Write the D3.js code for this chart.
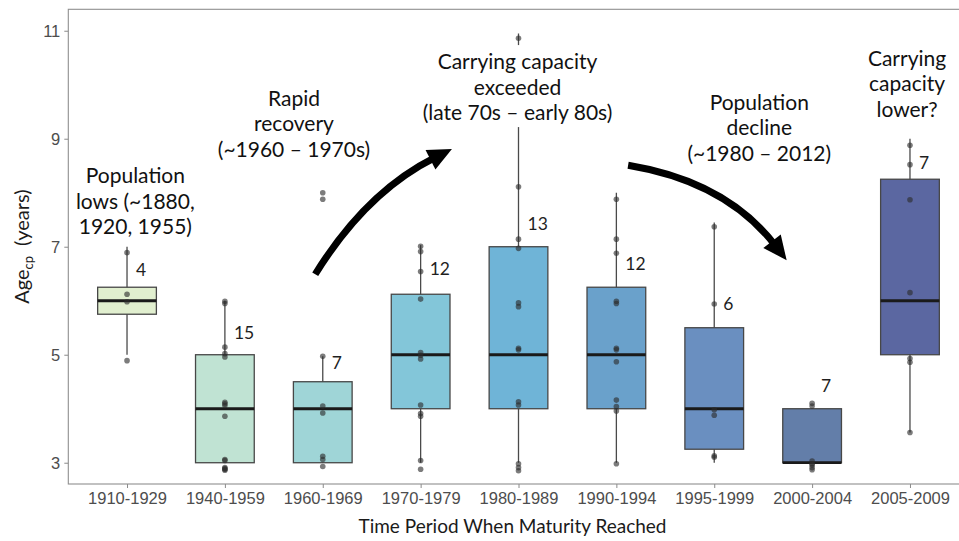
<!DOCTYPE html>
<html>
<head>
<meta charset="utf-8">
<script src="https://cdn.jsdelivr.net/npm/d3@7"></script>
<style>
  body { margin: 0; background: #fff; }
  svg { display: block; font-family: Lato, "Open Sans", sans-serif; }
</style>
</head>
<body>
<div id="chart"></div>
<script>

// Data

var periods = ["1910-1929", "1940-1959", "1960-1969", "1970-1979", "1980-1989",
               "1990-1994", "1995-1999", "2000-2004", "2005-2009"];

var counts = [4, 15, 7, 12, 13, 12, 6, 7, 7];

var whiskerLow  = [5,    3, 3,    3,    3,     3,    3,    3, 3.56];
var q1          = [5.75, 3, 3,    4,    4,     4,    3.25, 3, 5];
var medians     = [6,    4, 4,    5,    5,     5,    4,    3, 6];
var q3          = [6.25, 5, 4.5,  6.12, 7,     6.25, 5.5,  4, 8.25];
var whiskerHigh = [7,    6, 4.97, 7.03, 10.95, 8,    7.45, 4, 9];

// jittered points as plotted
var pointValues = [
    [6.89, 6.12, 5.98, 4.89],
    [5.99, 5.95, 5.14, 5.02, 4.96, 4.12, 4.09, 4.06, 3.86, 3.06, 3.04, 2.91, 2.89, 2.88, 2.86],
    [8.0, 7.88, 4.97, 4.05, 3.92, 3.12, 3.06, 2.93],
    [7.01, 6.91, 6.54, 6.03, 5.04, 4.99, 4.92, 4.07, 3.91, 3.86, 3.04, 2.88],
    [10.86, 8.11, 7.14, 6.97, 5.96, 5.89, 5.12, 5.09, 4.13, 4.07, 2.98, 2.91, 2.85],
    [7.88, 7.14, 6.88, 5.99, 5.95, 5.12, 5.09, 4.87, 4.16, 4.04, 3.96, 2.98],
    [7.37, 5.94, 3.98, 3.88, 3.13, 3.1],
    [4.1, 4.05, 3.03, 2.98, 2.96, 2.91, 2.87],
    [8.88, 8.52, 7.87, 6.15, 4.93, 4.86, 3.56]
];

var countLabelY = [6.57, 5.4, 4.86, 6.59, 7.42, 6.69, 5.95, 4.42, 8.56];

var boxColors = ["#e1efcf", "#c0e3d3", "#9fd5d7", "#83c6d9", "#6fb4d7",
                 "#6aa1cb", "#6a8fc0", "#637ea9", "#5b67a1"];

var yTicks = [3, 5, 7, 9, 11];

// annotation text, anchored in data units (x = period index, y = first baseline)
var noteLines = [
    ["Population", "lows (~1880,", "1920, 1955)"],
    ["Rapid", "recovery", "(~1960 \u2013 1970s)"],
    ["Carrying capacity", "exceeded", "(late 70s \u2013 early 80s)"],
    ["Population", "decline", "(~1980 \u2013 2012)"],
    ["Carrying", "capacity", "lower?"]
];
var noteX = [1.085, 2.706, 4.99, 7.46, 8.97];
var noteY = [8.18, 9.61, 10.29, 9.54, 10.35];
var noteBackground = [false, false, true, false, false];

// curved arrows: tail, control, tip in data units
var arrowFrom = [[2.923, 6.49], [6.12, 8.51]];
var arrowVia  = [[3.44, 8.01],  [7.12, 8.21]];
var arrowTo   = [[4.32, 8.81],  [7.74, 6.75]];


var W = 959, H = 541;
var panel = {left: 68.3, right: 968.7, top: 9.3, bottom: 484};

var svg = d3.select("#chart").append("svg")
    .attr("width", W)
    .attr("height", H);

svg.append("rect").attr("width", W).attr("height", H).attr("fill", "#fff");

var xBand = d3.scalePoint()
    .domain(periods)
    .range([panel.left, panel.right])
    .padding(0.6);

// continuous version of the same axis, for annotations
var xCont = d3.scaleLinear()
    .domain([0.4, periods.length + 0.6])
    .range([panel.left, panel.right]);

var y = d3.scaleLinear()
    .domain([2.606, 11.397])
    .range([panel.bottom, panel.top]);

var boxW = xBand.step() * 0.6;


// axes
var yAxis = d3.axisLeft(y).tickValues(yTicks).tickSize(4).tickPadding(4);
var gy = svg.append("g").attr("transform", "translate(" + panel.left + ",0)").call(yAxis);
gy.select(".domain").remove();
gy.selectAll(".tick line").attr("stroke", "#8a8a8a");
gy.selectAll(".tick text").attr("fill", "#4d4d4d").style("font-size", "16.5px");

var xAxis = d3.axisBottom(xBand).tickSize(4).tickPadding(4);
var gx = svg.append("g").attr("transform", "translate(0," + panel.bottom + ")").call(xAxis);
gx.select(".domain").remove();
gx.selectAll(".tick line").attr("stroke", "#8a8a8a");
gx.selectAll(".tick text").attr("fill", "#4d4d4d").style("font-size", "16.5px");


// boxes
var boxes = svg.append("g").selectAll("g")
    .data(periods)
    .enter()
    .append("g")
    .attr("transform", function(d) { return "translate(" + xBand(d) + ",0)"; });

boxes.append("line")
    .attr("y1", function(d, i) { return y(whiskerHigh[i]); })
    .attr("y2", function(d, i) { return y(whiskerLow[i]); })
    .attr("stroke", "#4a4a4a")
    .attr("stroke-width", 1.3);

boxes.append("rect")
    .attr("x", -boxW / 2)
    .attr("width", boxW)
    .attr("y", function(d, i) { return y(q3[i]); })
    .attr("height", function(d, i) { return y(q1[i]) - y(q3[i]); })
    .attr("fill", function(d, i) { return boxColors[i]; })
    .attr("stroke", "#474747")
    .attr("stroke-width", 1.3);

boxes.append("line")
    .attr("x1", -boxW / 2)
    .attr("x2", boxW / 2)
    .attr("y1", function(d, i) { return y(medians[i]); })
    .attr("y2", function(d, i) { return y(medians[i]); })
    .attr("stroke", "#1a1a1a")
    .attr("stroke-width", 2.8);

boxes.selectAll("circle")
    .data(function(d, i) { return pointValues[i]; })
    .enter()
    .append("circle")
    .attr("cy", function(v) { return y(v); })
    .attr("r", 2.8)
    .attr("fill", "#2b2b2b")
    .attr("fill-opacity", 0.62);

boxes.append("text")
    .attr("x", 9)
    .attr("y", function(d, i) { return y(countLabelY[i]); })
    .attr("dy", "0.36em")
    .attr("fill", "#1f1f1f")
    .style("font-size", "17.5px")
    .text(function(d, i) { return counts[i]; });


// panel border
svg.append("rect")
    .attr("x", panel.left)
    .attr("y", panel.top)
    .attr("width", panel.right - panel.left)
    .attr("height", panel.bottom - panel.top)
    .attr("fill", "none")
    .attr("stroke", "#8f8f8f")
    .attr("stroke-width", 1.1);


// annotations
var lineGap = 25.5;
noteLines.forEach(function(lines, i) {
    var g = svg.append("g");
    var bg = g.append("rect").attr("fill", "#fff");
    var t = g.append("text")
        .attr("text-anchor", "middle")
        .attr("fill", "#111")
        .style("font-size", "21px");
    lines.forEach(function(s, k) {
        t.append("tspan")
            .attr("x", xCont(noteX[i]))
            .attr("y", y(noteY[i]) + k * lineGap)
            .text(s);
    });
    if (noteBackground[i]) {
        var b = t.node().getBBox();
        bg.attr("x", b.x - 4).attr("y", b.y - 3)
          .attr("width", b.width + 8).attr("height", b.height + 6);
    } else {
        bg.remove();
    }
});

arrowFrom.forEach(function(from, i) {
    var p0 = [xCont(from[0]), y(from[1])];
    var c = [xCont(arrowVia[i][0]), y(arrowVia[i][1])];
    var tip = [xCont(arrowTo[i][0]), y(arrowTo[i][1])];
    var dx = tip[0] - c[0], dy = tip[1] - c[1];
    var len = Math.sqrt(dx * dx + dy * dy);
    var ux = dx / len, uy = dy / len;
    var headLen = 24, headHalf = 11;
    var base = [tip[0] - ux * headLen, tip[1] - uy * headLen];
    var end = [tip[0] - ux * headLen * 0.8, tip[1] - uy * headLen * 0.8];

    var path = d3.path();
    path.moveTo(p0[0], p0[1]);
    path.quadraticCurveTo(c[0], c[1], end[0], end[1]);
    svg.append("path")
        .attr("d", path.toString())
        .attr("fill", "none")
        .attr("stroke", "#000")
        .attr("stroke-width", 7);

    svg.append("polygon")
        .attr("points", [
            tip,
            [base[0] - uy * headHalf, base[1] + ux * headHalf],
            [base[0] + uy * headHalf, base[1] - ux * headHalf]
        ].map(function(p) { return p.join(","); }).join(" "))
        .attr("fill", "#000");
});


// axis titles
svg.append("text")
    .attr("x", 512.5)
    .attr("y", 533)
    .attr("text-anchor", "middle")
    .attr("fill", "#1a1a1a")
    .style("font-size", "19px")
    .text("Time Period When Maturity Reached");

var yTitle = svg.append("text")
    .attr("transform", "translate(29," + ((panel.top + panel.bottom) / 2) + ") rotate(-90)")
    .attr("text-anchor", "middle")
    .attr("fill", "#1a1a1a")
    .style("font-size", "20px");
yTitle.append("tspan").text("Age");
yTitle.append("tspan").attr("dy", 4).style("font-size", "13px").text("cp");
yTitle.append("tspan").attr("dy", -4).text("\u2002(years)");

</script>
</body>
</html>
